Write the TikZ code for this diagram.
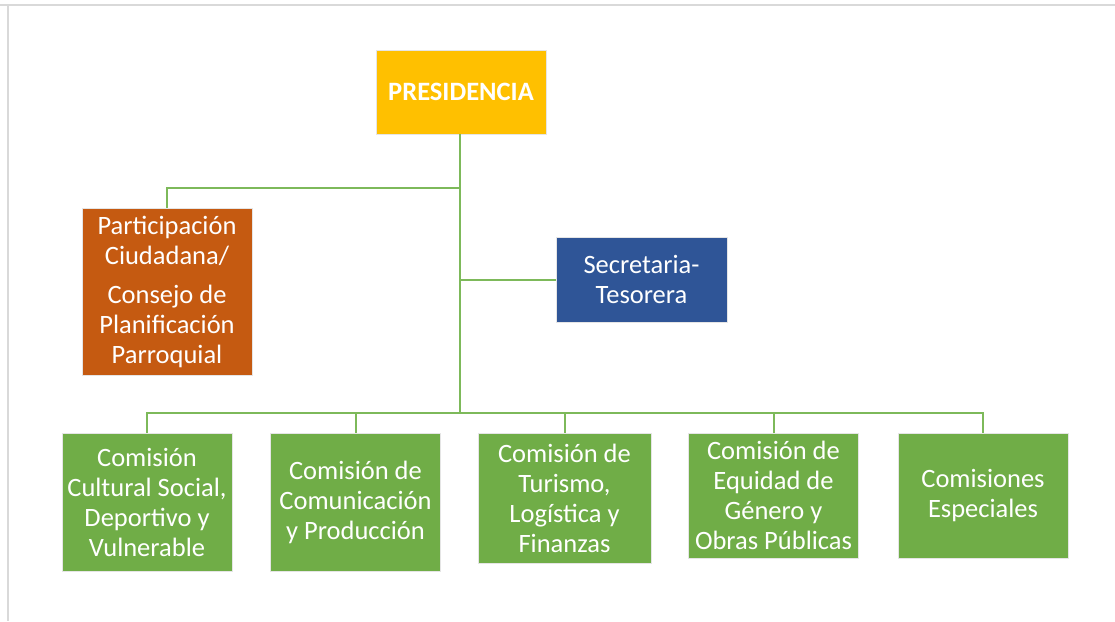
\documentclass[tikz,border=0pt]{standalone}
\usepackage{fontspec}
\setmainfont{Carlito}
\usepackage{tikz}
\usetikzlibrary{ positioning, calc }
\usepackage{xcolor}
\definecolor{presi}{HTML}{FFC000}
\definecolor{parti}{HTML}{C55A11}
\definecolor{secre}{HTML}{2F5597}
\definecolor{comis}{HTML}{70AD47}
\definecolor{linea}{HTML}{7DB95A}
\definecolor{marco}{HTML}{D9D9D9}

\begin{document}
\begin{tikzpicture}[
  x=1pt, y=-1pt,
  node distance=38pt,
  unit/.style={draw=white!90!black, line width=0.5pt, text=white,
               align=center, inner sep=2pt,
               minimum width=170pt, font=\fontsize{26.5}{30}\selectfont},
  comision/.style={unit, fill=comis, anchor=north},
  conn/.style={linea, line width=2pt},
]
  \useasboundingbox (0,0) rectangle (1115,621);
  % frame of the page
  \draw[marco, line width=2pt] (0,4.5) -- (1115,4.5);
  \draw[marco, line width=2pt] (7.5,4.5) -- (7.5,621);

  \node[unit, fill=presi, minimum height=84pt, font=\fontsize{26.5}{30}\selectfont\bfseries]
    (pres) at (461,92) {PRESIDENCIA};
  \node[unit, fill=parti, minimum height=167pt]
    (part) at (167,291.5) {Participación\\Ciudadana/\\[9pt]Consejo de\\Planificación\\Parroquial};
  \node[unit, fill=secre, minimum width=171pt, minimum height=85pt]
    (sec) at (641.5,279.5) {Secretaria-\\Tesorera};

  \node[comision, minimum height=138pt] (c1) at (147,433)
    {Comisión\\Cultural Social,\\Deportivo y\\Vulnerable};
  \node[comision, minimum height=138pt, right=of c1.north east, anchor=north west] (c2)
    {Comisión de\\Comunicación\\y Producción};
  \node[comision, minimum height=130pt, minimum width=173pt, right=37pt of c2.north east, anchor=north west] (c3)
    {Comisión de\\Turismo,\\Logística y\\Finanzas};
  \node[comision, minimum height=125pt, right=37pt of c3.north east, anchor=north west] (c4)
    {Comisión de\\Equidad de\\Género y\\Obras Públicas};
  \node[comision, minimum height=125pt, right=39pt of c4.north east, anchor=north west] (c5)
    {Comisiones\\Especiales};

  % connectors
  \coordinate (jpart) at (460,188);
  \coordinate (bus) at (460,413);
  \draw[conn] (pres.south -| bus) -- (bus);
  \draw[conn] (jpart) -| (part.north);
  \draw[conn] (bus |- sec.west) -- (sec.west);
  \foreach \c in {c1,c2,c3,c4,c5}
    \draw[conn] (bus) -| (\c.north);
\end{tikzpicture}
\end{document}
